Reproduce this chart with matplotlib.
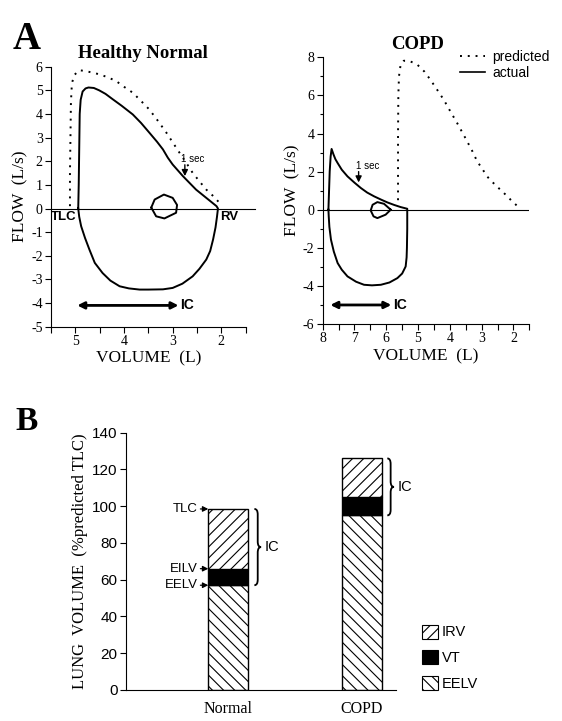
import matplotlib
matplotlib.use("Agg")
import matplotlib.pyplot as plt
from matplotlib.path import Path
from matplotlib.patches import PathPatch, Patch
from matplotlib.lines import Line2D
from matplotlib.ticker import MultipleLocator

plt.rcParams['font.family'] = 'Liberation Serif'
plt.rcParams['hatch.linewidth'] = 0.8
plt.rcParams['axes.unicode_minus'] = False
SANS = 'Liberation Sans'

# ---- panel A data: flow-volume loops ----
# healthy, actual (expiration then inspiration back to TLC)
hn_vol = [4.94, 4.93, 4.92, 4.91, 4.89, 4.85, 4.79, 4.73, 4.62, 4.51, 4.38, 4.23,
          4.05, 3.82, 3.65, 3.48, 3.32, 3.20, 3.10, 3.00, 2.79, 2.52, 2.31, 2.10, 2.07,
          2.09, 2.12, 2.17, 2.23, 2.31, 2.45, 2.59, 2.80, 3.00, 3.20, 3.50, 3.68, 3.90,
          4.09, 4.28, 4.44, 4.60, 4.71, 4.80, 4.88, 4.92, 4.94]
hn_flow = [0.0, 1.0, 2.5, 4.0, 4.6, 4.95, 5.08, 5.12, 5.10, 5.00, 4.85, 4.62,
           4.35, 3.98, 3.62, 3.21, 2.82, 2.50, 2.15, 1.86, 1.37, 0.80, 0.45, 0.10, 0.0,
           -0.35, -0.80, -1.31, -1.80, -2.16, -2.55, -2.87, -3.18, -3.36, -3.42, -3.43, -3.43, -3.38,
           -3.29, -3.05, -2.73, -2.30, -1.74, -1.25, -0.75, -0.35, 0.0]
# healthy, predicted
hp_vol = [5.11, 5.11, 5.10, 5.09, 5.07, 5.02, 4.92, 4.80, 4.65, 4.51, 4.33, 4.16,
          4.00, 3.82, 3.65, 3.48, 3.30, 3.13, 3.00, 2.86, 2.72, 2.59, 2.45, 2.31,
          2.18, 2.07, 2.00]
hp_flow = [0.10, 1.5, 3.0, 4.5, 5.3, 5.65, 5.85, 5.82, 5.75, 5.68, 5.55, 5.39,
           5.15, 4.90, 4.55, 4.19, 3.70, 3.21, 2.80, 2.36, 1.93, 1.51, 1.15, 0.80,
           0.55, 0.31, 0.15]
# healthy, tidal loop
ht_vol = [3.44, 3.37, 3.18, 3.00, 2.91, 2.93, 3.17, 3.34, 3.44]
ht_flow = [0.04, 0.38, 0.59, 0.45, 0.15, -0.18, -0.42, -0.33, 0.04]

# COPD, actual
ca_vol = [7.82, 7.80, 7.78, 7.75, 7.72, 7.66, 7.60, 7.53, 7.40, 7.22, 7.00, 6.80,
          6.60, 6.38, 6.15, 5.96, 5.75, 5.55, 5.34,
          5.34, 5.35, 5.36, 5.39, 5.50, 5.65, 5.90, 6.17, 6.45, 6.70, 6.95, 7.22,
          7.40, 7.53, 7.65, 7.74, 7.79, 7.81, 7.82]
ca_flow = [0.0, 1.0, 2.0, 2.8, 3.19, 2.90, 2.65, 2.45, 2.10, 1.75, 1.42, 1.14,
           0.90, 0.70, 0.52, 0.38, 0.25, 0.14, 0.05,
           -1.0, -2.0, -2.5, -2.98, -3.35, -3.59, -3.82, -3.94, -3.97, -3.94, -3.78, -3.50,
           -3.15, -2.80, -2.20, -1.57, -0.90, -0.35, 0.0]
# COPD, predicted
cp_vol = [5.63, 5.63, 5.63, 5.62, 5.60, 5.55, 5.45, 5.30, 5.15, 5.02, 4.80, 4.61,
          4.40, 4.19, 3.98, 3.77, 3.51, 3.30, 3.14, 2.98, 2.83, 2.60, 2.41, 2.20,
          2.04, 1.84]
cp_flow = [0.5, 2.0, 4.0, 6.0, 7.0, 7.6, 7.82, 7.82, 7.72, 7.61, 7.25, 6.82,
           6.30, 5.77, 5.15, 4.55, 3.76, 3.10, 2.54, 2.15, 1.75, 1.35, 1.05, 0.72,
           0.44, 0.14]
# COPD, tidal loop
ct_vol = [5.86, 6.07, 6.28, 6.43, 6.49, 6.40, 6.28, 6.02, 5.86]
ct_flow = [0.0, 0.31, 0.40, 0.26, -0.04, -0.35, -0.44, -0.26, 0.0]

# ---- panel B data ----
groups = ['Normal', 'COPD']
eelv = [57, 95]
vt = [9, 10]
irv = [32.5, 21]

DOT = (0, (1, 3))
LW = 1.4

fig = plt.figure(figsize=(5.62, 7.21), dpi=100)

def style_a(ax):
    for s in ['top', 'right']:
        ax.spines[s].set_visible(False)
    ax.tick_params(which='both', direction='out', length=4, width=0.8, labelsize=10, pad=2)
    ax.set_xlabel('VOLUME  (L)', fontsize=12.5, labelpad=2)
    ax.set_ylabel('FLOW  (L/s)', fontsize=12.5, labelpad=2)

# healthy normal
ax1 = fig.add_axes([0.0907, 0.5469, 0.3465, 0.3606])
ax1.plot(hn_vol, hn_flow, color='black', lw=LW)
ax1.plot(hp_vol, hp_flow, color='black', lw=LW, linestyle=DOT)
ax1.plot(ht_vol, ht_flow, color='black', lw=LW)
ax1.axhline(0, xmin=0, xmax=1.05, color='black', lw=0.8, clip_on=False)
ax1.set_xlim(5.5, 1.5)
ax1.set_ylim(-5, 6)
ax1.xaxis.set_major_locator(MultipleLocator(1))
ax1.xaxis.set_minor_locator(MultipleLocator(0.5))
ax1.yaxis.set_major_locator(MultipleLocator(1))
style_a(ax1)
ax1.set_title('Healthy Normal', fontsize=13.5, fontweight='bold', x=0.47, pad=6)
ax1.text(4.97, -0.12, 'TLC', ha='right', va='top', fontsize=9.5, fontweight='bold', family=SANS)
ax1.text(2.02, -0.12, 'RV', ha='left', va='top', fontsize=9.5, fontweight='bold', family=SANS)
ax1.annotate('', xy=(2.75, 1.37), xytext=(2.75, 1.85),
             arrowprops=dict(arrowstyle='-|>', color='black', lw=1, mutation_scale=9, shrinkA=0, shrinkB=0))
ax1.text(2.82, 1.9, '1 sec', ha='left', va='bottom', fontsize=7, family=SANS)
ax1.annotate('', xy=(4.96, -4.1), xytext=(2.88, -4.1),
             arrowprops=dict(arrowstyle='<|-|>', color='black', lw=2, mutation_scale=10, shrinkA=0, shrinkB=0))
ax1.text(2.84, -4.1, 'IC', ha='left', va='center', fontsize=10, fontweight='bold', family=SANS)

# COPD
ax2 = fig.add_axes([0.5742, 0.5506, 0.3676, 0.3699])
ax2.plot(ca_vol, ca_flow, color='black', lw=LW)
ax2.plot(cp_vol, cp_flow, color='black', lw=LW, linestyle=DOT)
ax2.plot(ct_vol, ct_flow, color='black', lw=LW)
ax2.axhline(0, color='black', lw=0.8)
ax2.set_xlim(8, 1.5)
ax2.set_ylim(-6, 8)
ax2.xaxis.set_major_locator(MultipleLocator(1))
ax2.xaxis.set_minor_locator(MultipleLocator(0.5))
ax2.yaxis.set_major_locator(MultipleLocator(2))
ax2.yaxis.set_minor_locator(MultipleLocator(1))
style_a(ax2)
ax2.tick_params(axis='y', which='minor', length=2.5)
ax2.set_title('COPD', fontsize=13.5, fontweight='bold', x=0.46, pad=6)
ax2.annotate('', xy=(6.87, 1.43), xytext=(6.87, 2.0),
             arrowprops=dict(arrowstyle='-|>', color='black', lw=1, mutation_scale=9, shrinkA=0, shrinkB=0))
ax2.text(6.95, 2.05, '1 sec', ha='left', va='bottom', fontsize=7, family=SANS)
ax2.annotate('', xy=(7.76, -5.0), xytext=(5.84, -5.0),
             arrowprops=dict(arrowstyle='<|-|>', color='black', lw=2, mutation_scale=10, shrinkA=0, shrinkB=0))
ax2.text(5.78, -5.0, 'IC', ha='left', va='center', fontsize=10, fontweight='bold', family=SANS)
handles = [Line2D([], [], color='black', lw=LW, linestyle=DOT),
           Line2D([], [], color='black', lw=1.2)]
ax2.legend(handles, ['predicted', 'actual'], loc='upper left', bbox_to_anchor=(0.64, 1.05),
           frameon=False, handlelength=1.8, handletextpad=0.5, labelspacing=0.15,
           borderaxespad=0, prop={'family': SANS, 'size': 10})

fig.text(0.023, 0.945, 'A', fontsize=28, fontweight='bold', va='center')

# ---- panel B ----
ax3 = fig.add_axes([0.2242, 0.0430, 0.4804, 0.3569])
xpos = [1, 2]
w = 0.3
bottoms_vt = [e for e in eelv]
bottoms_irv = [e + v for e, v in zip(eelv, vt)]
ax3.bar(xpos, eelv, w, color='white', edgecolor='black', hatch='\\\\\\', lw=1)
ax3.bar(xpos, vt, w, bottom=bottoms_vt, color='black', edgecolor='black', lw=1)
ax3.bar(xpos, irv, w, bottom=bottoms_irv, color='white', edgecolor='black', hatch='///', lw=1)
ax3.set_xlim(0.234, 2.255)
ax3.set_ylim(0, 140)
ax3.yaxis.set_major_locator(MultipleLocator(20))
ax3.set_xticks(xpos)
ax3.set_xticklabels(groups, fontsize=11.5)
ax3.tick_params(axis='x', length=0, pad=8)
ax3.tick_params(axis='y', direction='out', length=4, width=0.8, labelsize=11, pad=2)
for lab in ax3.get_yticklabels():
    lab.set_family(SANS)
for s in ['top', 'right']:
    ax3.spines[s].set_visible(False)
ax3.set_ylabel('LUNG  VOLUME  (%predicted TLC)', fontsize=12, labelpad=3)

tops = [e + v + i for e, v, i in zip(eelv, vt, irv)]
left_edge = xpos[0] - w / 2
for name, yv in [('TLC', tops[0]), ('EILV', bottoms_irv[0]), ('EELV', eelv[0])]:
    ax3.annotate(name, xy=(left_edge, yv), xytext=(left_edge - 0.08, yv), ha='right', va='center',
                 fontsize=9.5, family=SANS,
                 arrowprops=dict(arrowstyle='-|>', color='black', lw=0.9, mutation_scale=8,
                                 shrinkA=0, shrinkB=0))

def brace(ax, x, y0, y1, width, d):
    mid = (y0 + y1) / 2
    h = width / 2
    verts = [(x, y1), (x + h, y1), (x + h, y1 - d),
             (x + h, mid + d),
             (x + h, mid), (x + width, mid),
             (x + h, mid), (x + h, mid - d),
             (x + h, y0 + d),
             (x + h, y0), (x, y0)]
    codes = [Path.MOVETO, Path.CURVE3, Path.CURVE3, Path.LINETO,
             Path.CURVE3, Path.CURVE3, Path.CURVE3, Path.CURVE3,
             Path.LINETO, Path.CURVE3, Path.CURVE3]
    ax.add_patch(PathPatch(Path(verts, codes), fill=False, lw=1.3, color='black', clip_on=False))

brace(ax3, 1.195, eelv[0], tops[0], 0.05, 3)
ax3.text(1.272, (eelv[0] + tops[0]) / 2, 'IC', ha='left', va='center', fontsize=10.5, family=SANS)
brace(ax3, 2.19, eelv[1], tops[1], 0.05, 3)
ax3.text(2.265, (eelv[1] + tops[1]) / 2, 'IC', ha='left', va='center', fontsize=10.5, family=SANS)

leg_handles = [Patch(facecolor='white', edgecolor='black', hatch='///', lw=0.8),
               Patch(facecolor='black', edgecolor='black', lw=0.8),
               Patch(facecolor='white', edgecolor='black', hatch='\\\\\\', lw=0.8)]
fig.legend(leg_handles, ['IRV', 'VT', 'EELV'], loc='upper left', bbox_to_anchor=(0.728, 0.152),
           frameon=False, handlelength=1.1, handleheight=1.1, handletextpad=0.25, labelspacing=0.75,
           prop={'family': SANS, 'size': 10.5})

fig.text(0.027, 0.415, 'B', fontsize=24, fontweight='bold', va='center')

fig.savefig('out.png', dpi=100)
